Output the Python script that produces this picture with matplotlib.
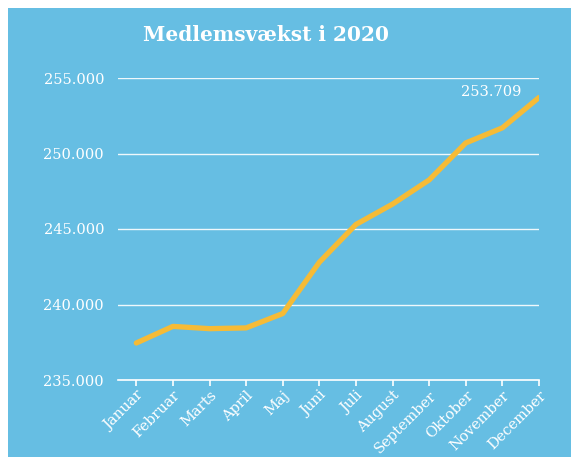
import matplotlib
matplotlib.use("Agg")
import matplotlib.pyplot as plt
from matplotlib.patches import Rectangle
from matplotlib.ticker import FuncFormatter

months = ["Januar", "Februar", "Marts", "April", "Maj", "Juni", "Juli",
          "August", "September", "Oktober", "November", "December"]
members = [237450, 238550, 238400, 238450, 239400, 242800, 245300,
           246650, 248250, 250700, 251700, 253709]
yticks = [235000, 240000, 245000, 250000, 255000]
title = "Medlemsvækst i 2020"

BLUE = "#66BEE3"
YELLOW = "#F6BB36"
W, H = 571, 457

plt.rcParams['font.family'] = ['DejaVu Serif']
fig = plt.figure(figsize=(W/100, H/100), dpi=100, facecolor="white")
fig.patches.append(Rectangle((8/W, 0), 1 - 8/W, 1 - 8/H, transform=fig.transFigure,
                             facecolor=BLUE, edgecolor="none", zorder=-10))

ax = fig.add_axes([118/W, 77/H, (539-118)/W, 302/H])
ax.set_facecolor("none")
x = list(range(len(months)))
ax.plot(x, members, color=YELLOW, lw=3.8, solid_capstyle="round",
        solid_joinstyle="round", zorder=3)
ax.set_xlim(-0.5, 11)
ax.set_ylim(235000, 255000)
ax.set_yticks(yticks)
ax.yaxis.set_major_formatter(FuncFormatter(lambda v, p: f"{int(v):,}".replace(",", ".")))
ax.set_xticks(x)
ax.set_xticklabels(months, rotation=45, ha="right", rotation_mode="anchor")
ax.grid(axis="y", color="white", lw=1.0, alpha=0.9)
ax.set_axisbelow(True)
for s in ["top", "right", "left"]:
    ax.spines[s].set_visible(False)
ax.spines["bottom"].set_color("white")
ax.spines["bottom"].set_linewidth(1.2)
ax.tick_params(axis="y", length=0, pad=10, labelcolor="white", labelsize=10.5)
ax.tick_params(axis="x", length=4, width=1.2, color="white", direction="out",
               labelcolor="white", labelsize=10.5, pad=2)

ax.annotate(f"{members[-1]:,}".replace(",", "."), xy=(x[-1], members[-1]),
            xytext=(-13, 4), textcoords="offset points", ha="right", va="center",
            color="white", fontsize=10.5)

fig.text(266/W, 1 - 35/H, title, ha="center", va="center", color="white",
         fontsize=14.5, fontweight="bold")

fig.savefig("out.png", dpi=100, facecolor="white")
